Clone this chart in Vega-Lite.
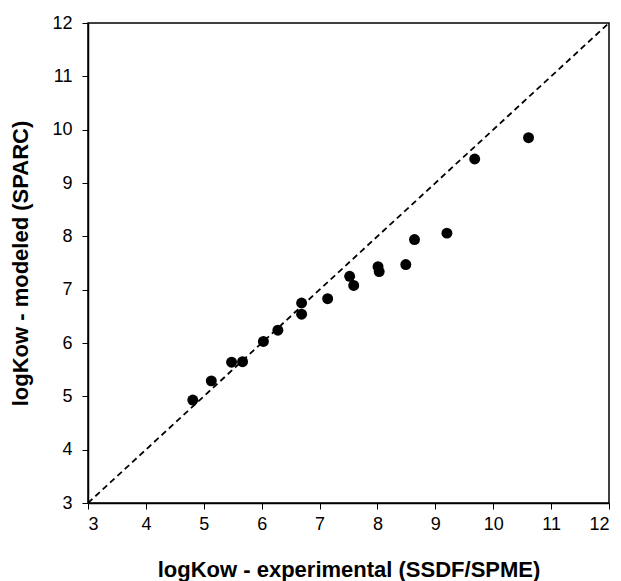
{
  "$schema": "https://vega.github.io/schema/vega-lite/v6.json",
  "width": 521,
  "height": 480,
  "autosize": "none",
  "padding": {"left": 88, "top": 23, "right": 12, "bottom": 78},
  "background": "white",
  "config": {
    "view": {"stroke": "black", "strokeWidth": 1.5},
    "font": "Liberation Sans",
    "axis": {
      "grid": false,
      "domainColor": "black",
      "domainWidth": 1.5,
      "tickColor": "black",
      "tickWidth": 1,
      "tickSize": 6,
      "labelColor": "black",
      "labelFont": "Liberation Sans",
      "labelFontSize": 18,
      "titleFont": "Liberation Sans",
      "titleFontSize": 22,
      "titleFontWeight": "bold",
      "titleColor": "black"
    }
  },
  "datasets": {
    "points": [
      {"exp": 4.81, "mod": 4.93},
      {"exp": 5.13, "mod": 5.29},
      {"exp": 5.48, "mod": 5.64},
      {"exp": 5.67, "mod": 5.65},
      {"exp": 6.03, "mod": 6.03},
      {"exp": 6.28, "mod": 6.24},
      {"exp": 6.69, "mod": 6.75},
      {"exp": 6.69, "mod": 6.54},
      {"exp": 7.14, "mod": 6.83},
      {"exp": 7.52, "mod": 7.25},
      {"exp": 7.59, "mod": 7.08},
      {"exp": 8.01, "mod": 7.43},
      {"exp": 8.03, "mod": 7.34},
      {"exp": 8.49, "mod": 7.47},
      {"exp": 8.64, "mod": 7.94},
      {"exp": 9.2, "mod": 8.06},
      {"exp": 9.68, "mod": 9.45},
      {"exp": 10.61, "mod": 9.85}
    ],
    "diag": [
      {"exp": 3, "mod": 3},
      {"exp": 12, "mod": 12}
    ]
  },
  "layer": [
    {
      "data": {"name": "diag"},
      "mark": {"type": "line", "color": "black", "strokeWidth": 1.8, "strokeDash": [6, 4], "clip": true},
      "encoding": {
        "x": {
          "field": "exp", "type": "quantitative",
          "scale": {"domain": [3, 12], "nice": false, "zero": false},
          "axis": {"values": [3, 4, 5, 6, 7, 8, 9, 10, 11, 12], "format": "d", "labelPadding": 6, "titlePadding": 26, "title": "logKow - experimental (SSDF/SPME)"}
        },
        "y": {
          "field": "mod", "type": "quantitative",
          "scale": {"domain": [3, 12], "nice": false, "zero": false},
          "axis": {"values": [3, 4, 5, 6, 7, 8, 9, 10, 11, 12], "format": "d", "labelPadding": 10, "titlePadding": 19, "title": "logKow - modeled (SPARC)"}
        }
      }
    },
    {
      "data": {"name": "points"},
      "mark": {"type": "circle", "color": "black", "opacity": 1, "size": 120},
      "encoding": {
        "x": {"field": "exp", "type": "quantitative"},
        "y": {"field": "mod", "type": "quantitative"}
      }
    }
  ]
}
